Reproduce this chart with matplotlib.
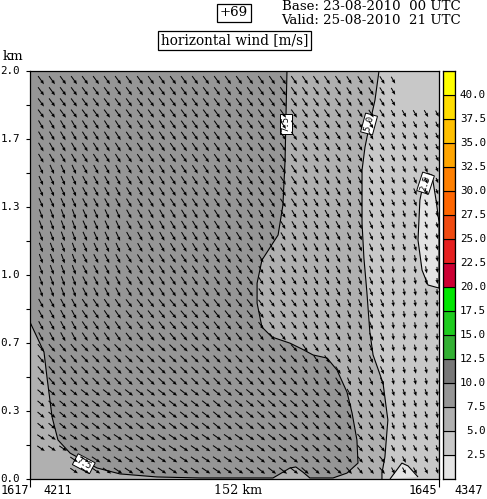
import numpy as np
import matplotlib
matplotlib.use("Agg")
import matplotlib.pyplot as plt
from matplotlib.patches import Polygon

W, H = 487, 499

# --- contour boundaries (distance km, height km)
main_x = [0, 5.2, 6.3, 7.4, 8.2, 10.4, 14.9, 24.9, 33.4, 47.2, 63.2, 90.3, 92.9, 96.6, 98.8, 101.4, 104,
          112.6, 117.8, 121.9, 121.5, 119.7, 117.8, 114.1, 110.4, 105.2, 101.1, 96.6, 89.9, 86.2, 84.4,
          84.4, 86.2, 92.2, 94, 94.8, 95.1, 95.5]
main_z = [.769, .622, .5, .387, .304, .191, .127, .054, .025, .01, .005, .005, .025, .054, .059, .034, .005,
          .005, .029, .078, .191, .323, .426, .534, .593, .608, .637, .666, .696, .745, .862,
          .96, 1.073, 1.196, 1.343, 1.563, 1.759, 2.0]
right_x = [129.7, 128.2, 126.3, 124.5, 123.4, 123.4, 124.1, 125.2, 126.3, 127.5, 131.2, 133, 131.9, 130.8, 130.8]
right_z = [2.0, 1.857, 1.744, 1.627, 1.514, 1.254, 1.083, .916, .72, .608, .47, .289, .108, .029, 0]
edge_x = [147.5, 149.4, 150.9, 152, 152, 147.9, 145.7, 144.2, 144.9, 146.4]
edge_z = [1.499, 1.49, 1.367, 1.259, .936, .951, 1.024, 1.171, 1.367, 1.465]
bump_x = [133.8, 138.2, 140.5, 144.2]
bump_z = [0, .078, .064, .01]

# --- wind, coarse blocks (rows top to bottom, columns left to right)
wind_angle = [
    [54, 54, 54, 54, 54, 55, 56, 58, 60, 62],
    [60, 58, 56, 55, 55, 55, 57, 60, 62, 65],
    [66, 62, 59, 57, 57, 57, 60, 63, 66, 68],
    [70, 66, 61, 59, 58, 60, 62, 66, 72, 76],
    [70, 63, 58, 56, 56, 58, 62, 68, 80, 85],
    [62, 56, 52, 50, 52, 54, 60, 68, 82, 88],
    [50, 46, 44, 44, 46, 48, 56, 66, 78, 86],
    [40, 38, 38, 38, 40, 42, 48, 60, 72, 80],
    [34, 34, 34, 34, 35, 38, 42, 50, 62, 72],
    [34, 32, 30, 30, 30, 30, 32, 42, 55, 65],
]
wind_speed = [
    [9, 9, 9, 9, 9, 9, 8.5, 7, 5, 3.5],
    [9, 9, 9, 9, 9, 9, 7, 6, 4.5, 3.5],
    [9, 9, 9, 9, 9, 9, 7, 6, 4, 2.2],
    [9, 9, 9, 9, 9, 7, 7, 6, 4, 2.2],
    [9, 9, 9, 9, 9, 6.5, 6.5, 6, 4, 2.5],
    [9, 9, 9, 9, 9, 6.5, 6.5, 6, 3.5, 3],
    [9, 9, 9, 9, 9, 8, 7, 6, 3.5, 3],
    [7, 9, 9, 9, 9, 9, 8, 6, 4, 3],
    [7, 9, 9, 9, 9, 9, 8, 6, 4, 3],
    [6, 8, 9, 9, 9, 8, 7, 6, 4, 3],
]

# --- colour scale
levels = [0, 2.5, 5, 7.5, 10, 12.5, 15, 17.5, 20, 22.5, 25, 27.5, 30, 32.5, 35, 37.5, 40, 42.5]
level_colors = ['#e4e4e4', '#c8c8c8', '#b0b0b0', '#969696', '#787878', '#33b033', '#1ecc1e', '#00e600',
                '#cc0033', '#e62020', '#f04a10', '#ff6600', '#ff8000', '#ffa500', '#ffc000', '#ffdd00', '#ffff00']
height_ticks = [0, 1/3, 2/3, 1, 4/3, 5/3, 2]
height_labels = ['0.0', '0.3', '0.7', '1.0', '1.3', '1.7', '2.0']

MONO = 'DejaVu Sans Mono'
SERIF = 'DejaVu Serif'

fig = plt.figure(figsize=(W/100, H/100), dpi=100)
ax = fig.add_axes([30/W, 1-479/H, 409/W, 408/H])
ax.set_xlim(0, 152)
ax.set_ylim(0, 2)
ax.set_facecolor(level_colors[2])

LW = 0.8
ax.add_patch(Polygon(list(zip(main_x, main_z)) + [(0, 2)], fc=level_colors[3], ec='none', zorder=1))
ax.plot(main_x, main_z, color='k', lw=LW, zorder=2)
ax.add_patch(Polygon(list(zip(right_x, right_z)) + [(152, 0), (152, 2)], fc=level_colors[1], ec='none', zorder=1))
ax.plot(right_x, right_z, color='k', lw=LW, zorder=2)
ax.add_patch(Polygon(list(zip(edge_x, edge_z)), fc=level_colors[0], ec='k', lw=LW, zorder=2))
ax.add_patch(Polygon(list(zip(bump_x, bump_z)), fc=level_colors[0], ec='k', lw=LW, zorder=2, closed=False))

# contour labels
for (x, z, s, rot) in [(95.0, 1.74, '7.5', 90), (126, 1.74, '5.0', 75), (147.0, 1.45, '2.5', 72), (20, .075, '7.5', -28)]:
    ax.text(x, z, s, rotation=rot, ha='center', va='center', fontsize=6.5, family=MONO, zorder=3,
            bbox=dict(fc='white', ec='k', lw=0.7, pad=1.2))

# wind arrows
ang = np.repeat(np.repeat(np.radians(wind_angle), 4, axis=0), 4, axis=1)[:36, :37]
spd = np.repeat(np.repeat(np.array(wind_speed, float), 4, axis=0), 4, axis=1)[:36, :37]
xs = 4.1 + 4.09*np.arange(37)
zs = 1.955 - 0.0547*np.arange(36)
X, Z = np.meshgrid(xs, zs)
keep = ~(((X > 137) & (Z > 1.82)) | ((X < 14) & (Z < 0.14)))
L = spd**0.4
ax.quiver(X[keep], Z[keep], (L*np.cos(ang))[keep], (-L*np.sin(ang))[keep], pivot='middle', angles='uv',
          scale_units='width', scale=98, width=0.0025, headwidth=3.4, headlength=4.0, headaxislength=3.8,
          minlength=0.5, color='k', zorder=4)

ax.set_xticks([0, 152])
ax.set_xticklabels([])
ax.tick_params(axis='x', length=5.5, width=0.8, direction='out')
ax.set_yticks(np.arange(0, 13)/6)
ax.set_yticklabels([])
ax.tick_params(axis='y', length=3, width=0.8, direction='out')
for sp in ax.spines.values():
    sp.set_linewidth(0.9)

def put(px, py, s, **kw):
    return fig.text(px/W, 1-py/H, s, va='center', **kw)

for v, s in zip(height_ticks, height_labels):
    put(20, 479-v*204, s, ha='right', family=MONO, fontsize=7.8)
put(13, 56, 'km', ha='center', family=SERIF, fontsize=9.5)
put(15, 491, '1617', ha='center', family=MONO, fontsize=8.6)
put(58, 491, '4211', ha='center', family=MONO, fontsize=8.6)
put(238, 491, '152 km', ha='center', family=SERIF, fontsize=9.2)
put(423, 491, '1645', ha='center', family=MONO, fontsize=8.6)
put(469, 491, '4347', ha='center', family=MONO, fontsize=8.6)

put(234, 13, '+69', ha='center', family=SERIF, fontsize=9.6,
    bbox=dict(fc='white', ec='k', lw=0.9, pad=2))
put(234.5, 40.5, 'horizontal wind [m/s]', ha='center', family=SERIF, fontsize=9.8,
    bbox=dict(fc='white', ec='k', lw=0.9, pad=2))
put(371, 7, 'Base: 23-08-2010  00 UTC', ha='center', family=SERIF, fontsize=9.6)
put(371, 20, 'Valid: 25-08-2010  21 UTC', ha='center', family=SERIF, fontsize=9.6)

# colour bar
cax = fig.add_axes([443/W, 1-479/H, 12/W, 408/H])
cax.set_xlim(0, 1)
cax.set_ylim(0, 42.5)
cax.bar(0.5, np.diff(levels), bottom=levels[:-1], width=1, color=level_colors, edgecolor='k', linewidth=0.8)
cax.set_xticks([])
cax.set_yticks([])
for v in levels[1:-1]:
    put(486, 479-v*9.6, f'{v:.1f}', ha='right', family=MONO, fontsize=7.8)
for sp in cax.spines.values():
    sp.set_linewidth(0.9)

fig.savefig('out.png', dpi=100)
